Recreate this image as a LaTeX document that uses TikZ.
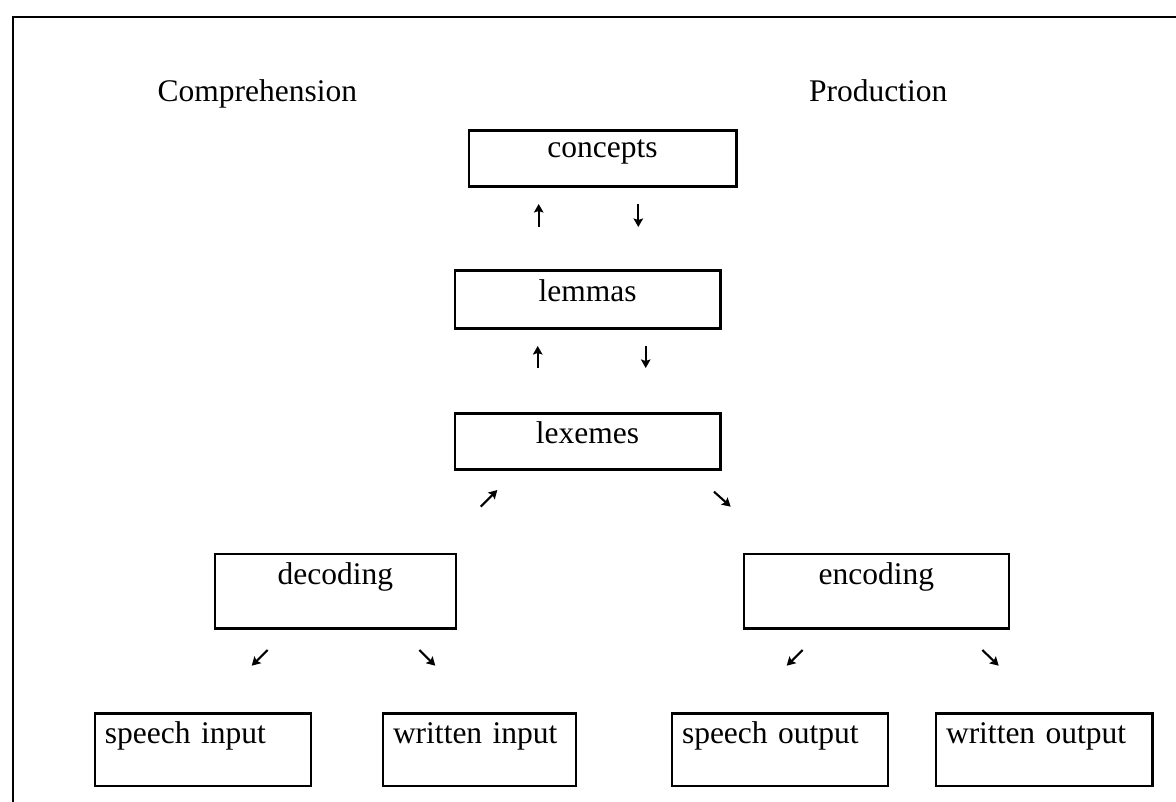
\documentclass[tikz,border=0pt]{standalone}
\usepackage{fontspec}
\setmainfont{Liberation Serif}
\usetikzlibrary{arrows.meta}
\begin{document}
\begin{tikzpicture}[x=1pt,y=-1pt,
  txt/.style={font=\fontsize{31.5pt}{37pt}\selectfont, inner sep=0pt},
  box/.style={txt, draw, line width=2.6pt, anchor=north west},
  lbox/.style={box, inner xsep=10pt, align=left},
  arr/.style={line width=2.1pt, -{Stealth[length=8.5pt,width=9.5pt,inset=1.5pt]}},
  frame/.style={line width=2.6pt}]
\useasboundingbox (0,0) rectangle (1176,802);
% outer frame (top and left only)
\coordinate (frTR) at (1176,17);
\coordinate (frTL) at (13,17);
\coordinate (frBL) at (13,802);
\draw[frame] (frTR) -- (frTL) -- (frBL);
% headings
\node[txt, anchor=base west] (comp) at (157.5,101.7) {Comprehension};
\node[txt, anchor=base west] (prod) at (808.8,101.7) {Production};
% boxes
\node[box, minimum width=267.5pt, text height=27.7pt, text depth=28.3pt] (concepts) at (467.5,129) {concepts};
\node[box, minimum width=265.5pt, text height=30.5pt, text depth=27pt] (lemmas) at (453.5,269.5) {lemmas};
\node[box, minimum width=265.5pt, text height=29.7pt, text depth=26.3pt] (lexemes) at (453.5,412) {lexemes};
\node[box, minimum width=241pt, text height=30.2pt, text depth=44.3pt] (decoding) at (213.5,552.5) {decoding};
\node[box, minimum width=265pt, text height=30.2pt, text depth=44.3pt] (encoding) at (742.5,552.5) {encoding};
\node[lbox, text width=196pt, text height=29.7pt, text depth=42.8pt] (sin) at (93.5,712) {speech input};
\node[lbox, text width=173pt, text height=29.7pt, text depth=42.8pt] (win) at (381.7,712) {written input};
\node[lbox, text width=196pt, text height=29.7pt, text depth=42.8pt] (sout) at (670.7,712) {speech output};
\node[lbox, text width=196.3pt, text height=29.7pt, text depth=42.8pt] (wout) at (934.7,712) {written output};
% arrows
\coordinate (a1s) at (538.7,227); \coordinate (a1e) at (538.7,204);
\coordinate (a2s) at (638.3,204); \coordinate (a2e) at (638.3,227);
\coordinate (a3s) at (537.7,368); \coordinate (a3e) at (537.7,346);
\coordinate (a4s) at (645.7,346); \coordinate (a4e) at (645.7,368);
\coordinate (a5s) at (480.7,506.7); \coordinate (a5e) at (497.3,490);
\coordinate (a6s) at (714,491.7); \coordinate (a6e) at (730.7,506.7);
\coordinate (a7s) at (267.7,650); \coordinate (a7e) at (251.7,665.7);
\coordinate (a8s) at (419.3,650); \coordinate (a8e) at (435.3,665.7);
\coordinate (a9s) at (802.7,650); \coordinate (a9e) at (786.7,665.7);
\coordinate (a10s) at (982.3,650); \coordinate (a10e) at (998.7,665.7);
\foreach \i in {1,...,10} {\draw[arr] (a\i s) -- (a\i e);}
\end{tikzpicture}
\end{document}
